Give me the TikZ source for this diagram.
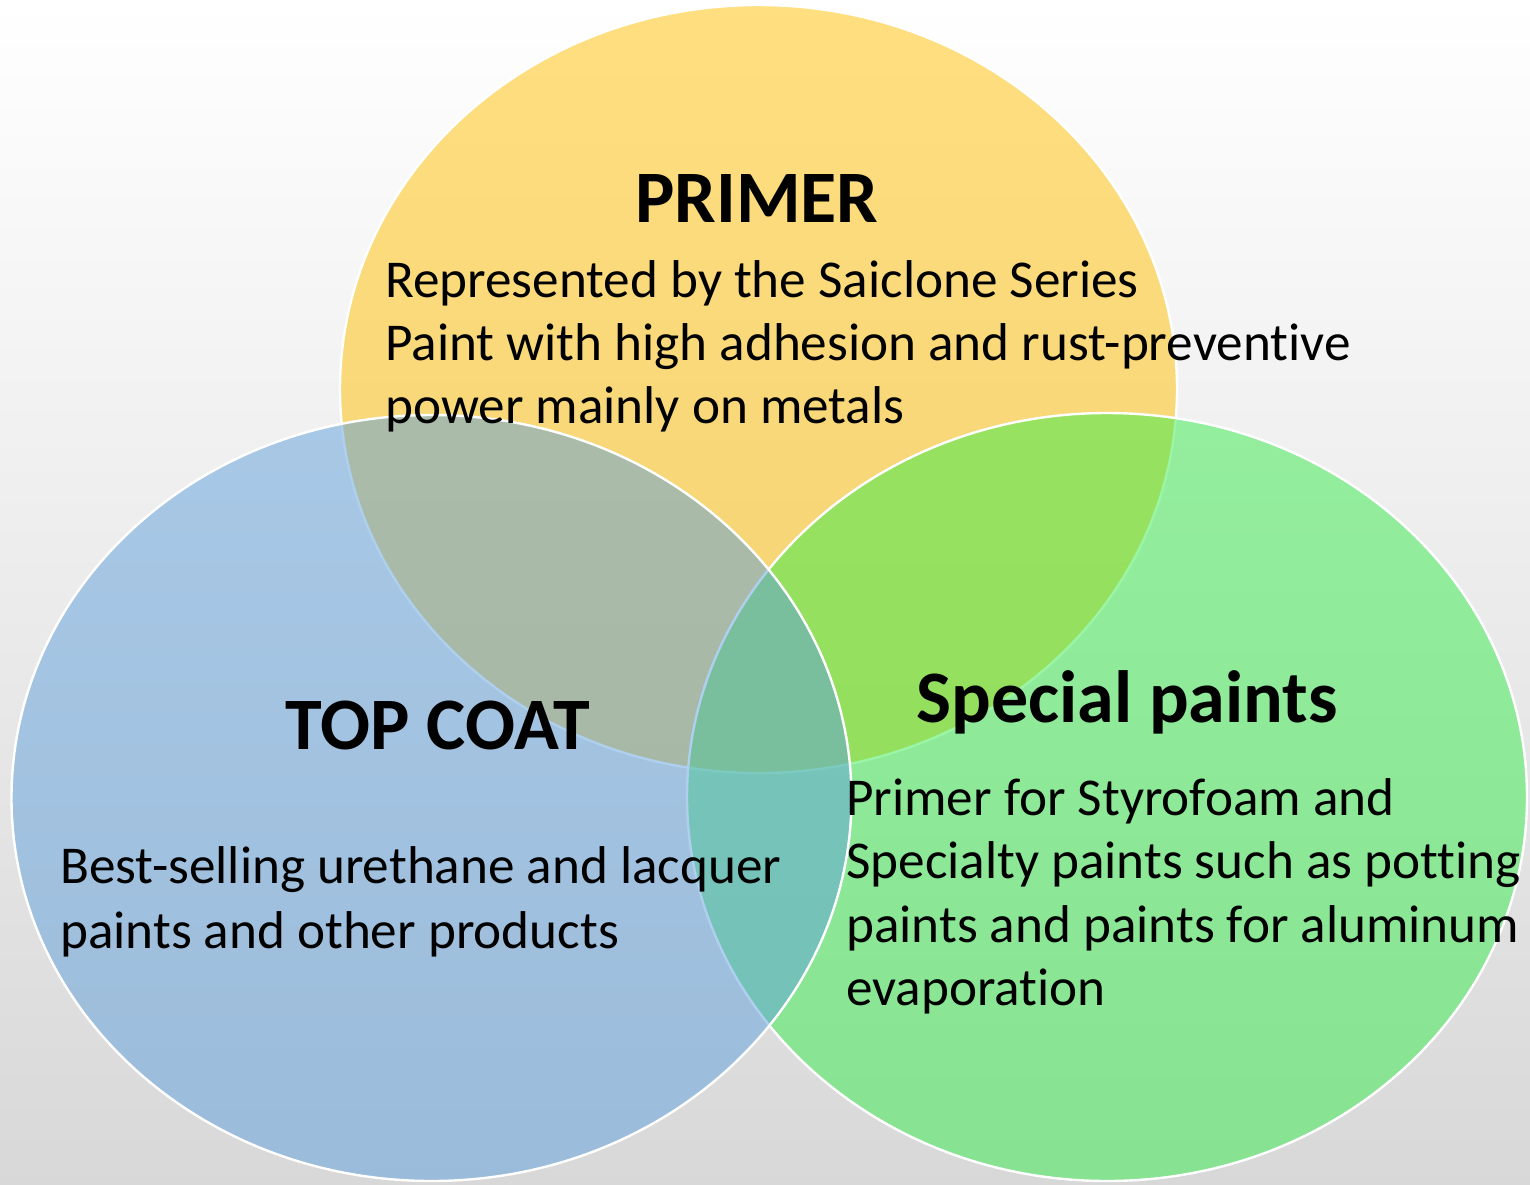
\documentclass[tikz,border=0pt]{standalone}
\usepackage{fontspec}
\setmainfont[Ligatures={NoCommon}]{Carlito}
\definecolor{bgbot}{RGB}{216,216,216}
\definecolor{primerc}{RGB}{255,192,0}
\definecolor{topc}{RGB}{95,160,220}
\definecolor{specc}{RGB}{55,236,75}
\tikzset{
  venn/.style={draw=white, line width=2.4pt, fill opacity=0.5},
  vtitle/.style={font=\fontsize{74}{88}\selectfont\bfseries, inner sep=0pt, anchor=base},
  vbody/.style={font=\fontsize{53.2}{63}\selectfont, inner sep=0pt, anchor=base west},
}
\begin{document}
\begin{tikzpicture}[x=1pt,y=-1pt]
  \useasboundingbox (0,0) rectangle (1530,1184);
  \shade[top color=white, bottom color=bgbot] (0,0) rectangle (1530,1184);
  % circles
  \draw[venn, fill=primerc] (758.5,389) ellipse [x radius=418.5pt, y radius=384pt];
  \draw[venn, fill=specc] (1107,797) ellipse [x radius=420pt, y radius=384pt];
  \draw[venn, fill=topc] (431.5,798) ellipse [x radius=420pt, y radius=383pt];
  % texts
  \node[vtitle] (primer) at (757,222) {PRIMER};
  \node[vbody] (p1) at (385,297) {Represented by the Saiclone Series};
  \node[vbody] (p2) at (385,360) {Paint with high adhesion and rust-preventive};
  \node[vbody] (p3) at (385,423) {power mainly on metals};
  \node[vtitle] (topcoat) at (438,749) {TOP COAT};
  \node[vbody] (t1) at (60,883) {Best-selling urethane and lacquer};
  \node[vbody] (t2) at (60,948) {paints and other products};
  \node[vtitle] (special) at (1127,722) {Special paints};
  \node[vbody] (s1) at (846,815) {Primer for Styrofoam and};
  \node[vbody] (s2) at (846,878) {Specialty paints such as potting};
  \node[vbody] (s3) at (846,942) {paints and paints for aluminum};
  \node[vbody] (s4) at (846,1005) {evaporation};
\end{tikzpicture}
\end{document}
